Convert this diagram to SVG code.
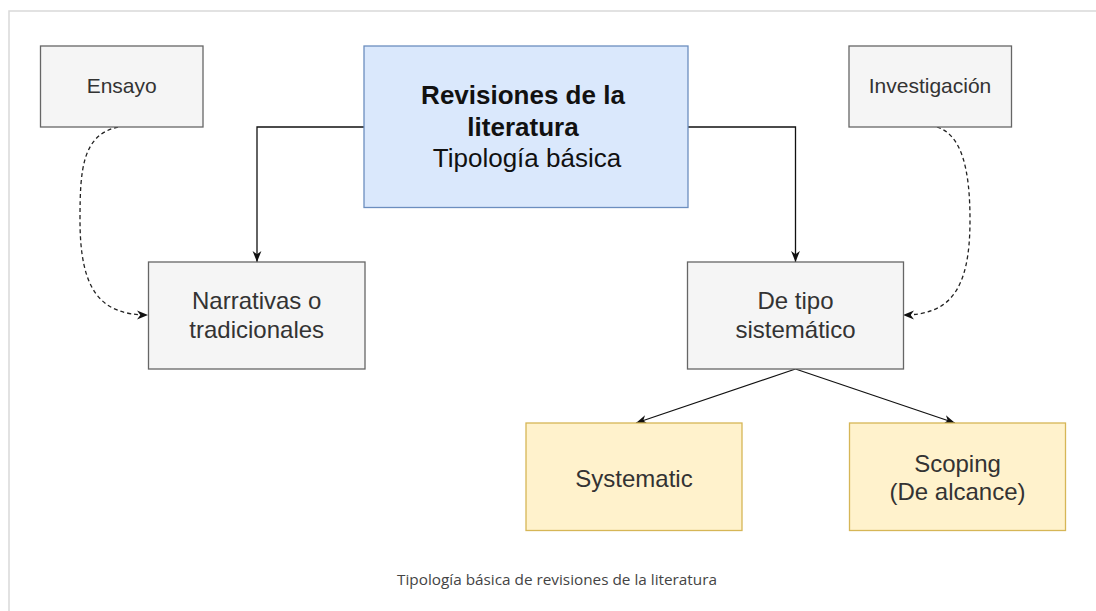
<svg xmlns="http://www.w3.org/2000/svg" width="1096" height="611" viewBox="0 0 1096 611">
<style>
.gray{fill:#f5f5f5;stroke:#666;stroke-width:1.3}
.blue{fill:#dae8fc;stroke:#6c8ebf;stroke-width:1.3}
.yellow{fill:#fff2cc;stroke:#d6b656;stroke-width:1.3}
.lbl{font-family:"Liberation Sans",Arial,sans-serif;fill:#333;text-anchor:middle}
.main{font-family:"Liberation Sans",Arial,sans-serif;fill:#111;text-anchor:middle;font-size:26px}
.solid{fill:none;stroke:#111;stroke-width:1.3;marker-end:url(#arr)}
.dash{fill:none;stroke:#222;stroke-width:1.3;stroke-dasharray:4 3;marker-end:url(#arr)}
</style>
<defs>
<marker id="arr" viewBox="0 0 10 10" refX="10" refY="5" markerWidth="11" markerHeight="11" markerUnits="userSpaceOnUse" orient="auto">
<path d="M0,1 L10,5 L0,9 L3,5 z" fill="#111"/>
</marker>
</defs>
<rect width="1096" height="611" fill="#fff"/>
<path d="M9,611 V11 H1096" fill="none" stroke="#d9d9d9" stroke-width="1.5"/>
<g id="connectors">
<path class="solid" d="M364,127 H257 V262"/>
<path class="solid" d="M688,127 H795.5 V262"/>
<path class="solid" d="M795.5,369 L636,423"/>
<path class="solid" d="M795.5,369 L955,423"/>
<path class="dash" d="M118,127 C82,135 80,170 80,220 C80,290 100,315 148,315"/>
<path class="dash" d="M937,127 C962,135 970,170 970,220 C970,290 950,315 903,315"/>
</g>
<g id="ensayo">
<rect class="gray" x="40.5" y="46" width="162.5" height="81"/>
<text class="lbl" x="121.7" y="92.5" font-size="21">Ensayo</text>
</g>
<g id="revisiones">
<rect class="blue" x="364" y="46" width="324" height="161.5"/>
<text class="main" x="523" y="104" font-weight="bold">Revisiones de la</text>
<text class="main" x="523" y="136" font-weight="bold">literatura</text>
<text class="main" x="527" y="167">Tipología básica</text>
</g>
<g id="investigacion">
<rect class="gray" x="849" y="46" width="162.5" height="81"/>
<text class="lbl" x="930" y="92.5" font-size="21">Investigación</text>
</g>
<g id="narrativas">
<rect class="gray" x="148.5" y="262" width="216.5" height="107"/>
<text class="lbl" x="256.7" y="309" font-size="24">Narrativas o</text>
<text class="lbl" x="256.7" y="338" font-size="24">tradicionales</text>
</g>
<g id="sistematico">
<rect class="gray" x="687.5" y="262" width="216" height="107"/>
<text class="lbl" x="795.5" y="309" font-size="24">De tipo</text>
<text class="lbl" x="795.5" y="338" font-size="24">sistemático</text>
</g>
<g id="systematic">
<rect class="yellow" x="526" y="423" width="216" height="107.5"/>
<text class="lbl" x="634" y="486.5" font-size="24">Systematic</text>
</g>
<g id="scoping">
<rect class="yellow" x="849.5" y="423" width="216" height="107.5"/>
<text class="lbl" x="957.5" y="471.5" font-size="24">Scoping</text>
<text class="lbl" x="957.5" y="500" font-size="24">(De alcance)</text>
</g>
<text x="397" y="585" font-family="'Open Sans','Noto Sans',sans-serif" font-size="15" fill="#444" textLength="320" lengthAdjust="spacingAndGlyphs">Tipología básica de revisiones de la literatura</text>
</svg>
